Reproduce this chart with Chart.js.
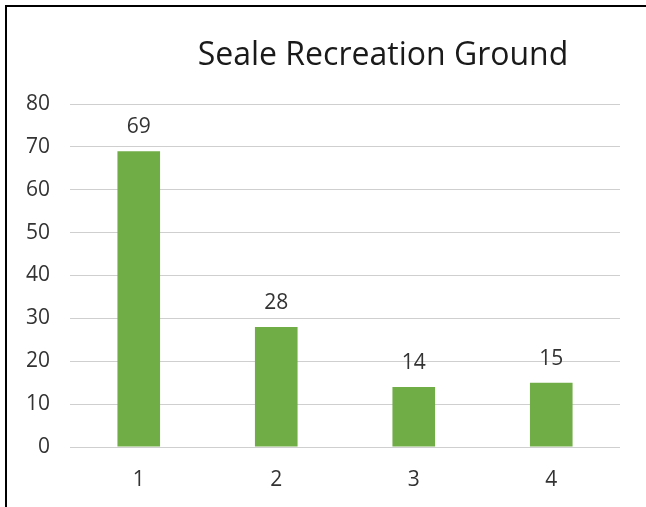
<!DOCTYPE html>
<html>
<head>
<meta charset="utf-8">
<title>Seale Recreation Ground</title>
<script src="https://cdn.jsdelivr.net/npm/chart.js@4.4.1/dist/chart.umd.min.js"></script>
<style>
  html, body { margin: 0; padding: 0; background: #fff; }
  #wrap { position: relative; width: 646px; height: 507px; overflow: hidden; }
  #frame {
    position: absolute; left: 5px; top: 5px; right: -10px; bottom: -10px;
    border-left: 2px solid #000; border-top: 2px solid #000;
    pointer-events: none;
  }
  #chart { position: absolute; left: 0; top: 0; }
</style>
</head>
<body>
<div id="wrap">
  <canvas id="chart" width="646" height="507"></canvas>
  <div id="frame"></div>
</div>
<script>
const chartTitle = 'Seale Recreation Ground';
const categories = ['1', '2', '3', '4'];
const counts = [69, 28, 14, 15];
const yTicks = [0, 10, 20, 30, 40, 50, 60, 70, 80];

const FONT = '"Open Sans", "DejaVu Sans", sans-serif';
const TEXT = '#333333';

// value labels above each bar
const barLabels = {
  id: 'barLabels',
  afterDatasetsDraw(chart) {
    const ctx = chart.ctx;
    const meta = chart.getDatasetMeta(0);
    ctx.save();
    ctx.font = '21px ' + FONT;
    ctx.fillStyle = TEXT;
    ctx.textAlign = 'center';
    ctx.textBaseline = 'alphabetic';
    meta.data.forEach((bar, i) => {
      ctx.fillText(String(chart.data.datasets[0].data[i]), bar.x, bar.y - 18);
    });
    ctx.restore();
  }
};

// chart heading, sits a little right of the plot centre
const heading = {
  id: 'heading',
  afterDraw(chart) {
    const ctx = chart.ctx;
    ctx.save();
    ctx.font = '32px ' + FONT;
    ctx.fillStyle = '#1a1a1a';
    ctx.textAlign = 'center';
    ctx.textBaseline = 'alphabetic';
    ctx.fillText(chartTitle, 383, 65);
    ctx.restore();
  }
};

new Chart(document.getElementById('chart'), {
  type: 'bar',
  data: {
    labels: categories,
    datasets: [{
      data: counts,
      backgroundColor: '#70AD47',
      borderWidth: 0,
      barPercentage: 0.31,
      categoryPercentage: 1
    }]
  },
  options: {
    responsive: false,
    devicePixelRatio: 1,
    animation: false,
    layout: { padding: { top: 104, right: 26, left: 0, bottom: 0 } },
    plugins: {
      legend: { display: false },
      title: { display: false },
      tooltip: { enabled: false }
    },
    scales: {
      x: {
        grid: { display: false },
        border: { display: false },
        ticks: { color: TEXT, font: { family: FONT, size: 21 }, padding: 12 },
        afterFit(s) { s.height = 60; }
      },
      y: {
        min: yTicks[0],
        max: yTicks[yTicks.length - 1],
        afterBuildTicks(s) { s.ticks = yTicks.map(v => ({ value: v })); },
        grid: { color: '#cfcfcf', lineWidth: 1, drawTicks: false },
        border: { display: false },
        ticks: { color: TEXT, font: { family: FONT, size: 21 }, padding: 20 },
        afterFit(s) { s.width = 70; }
      }
    }
  },
  plugins: [barLabels, heading]
});
</script>
</body>
</html>
